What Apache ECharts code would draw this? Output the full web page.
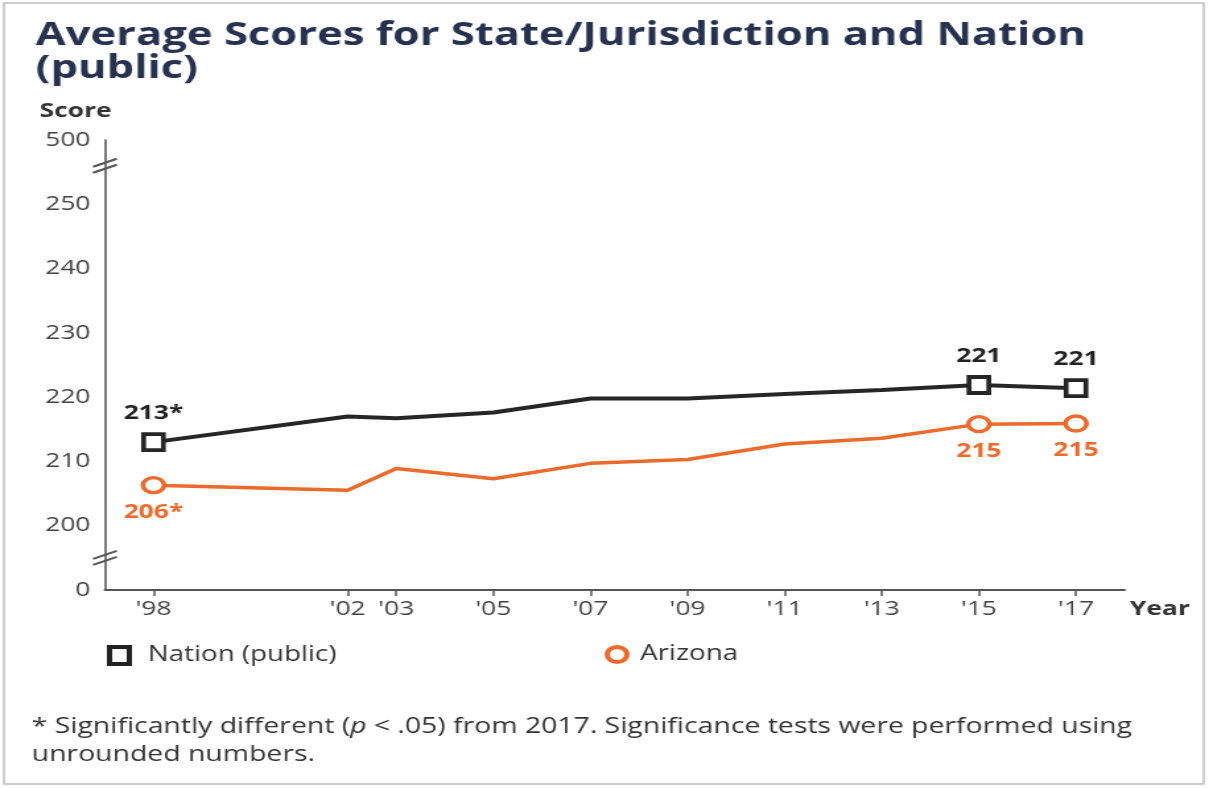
<!DOCTYPE html>
<html>
<head>
<meta charset="utf-8">
<script src="https://cdn.jsdelivr.net/npm/echarts@6/dist/echarts.min.js"></script>
<style>
  html, body { margin: 0; padding: 0; background: #fff; overflow: hidden; }
  /* the reference is stretched sideways, so the chart is drawn narrow and widened */
  #chart { width: 916px; height: 788px; transform: scaleX(1.3199); transform-origin: 0 0; }
</style>
</head>
<body>
<div id="chart"></div>
<script>
// data
const years = [1998, 2002, 2003, 2005, 2007, 2009, 2011, 2013, 2015, 2017]
const nation = [213.0, 217.0, 216.7, 217.6, 219.8, 219.8, 220.5, 221.1, 221.9, 221.4]
const arizona = [206.3, 205.5, 208.9, 207.3, 209.7, 210.3, 212.7, 213.6, 215.8, 215.9]
const nationLabels = ['213*', '', '', '', '', '', '', '', '221', '221']
const arizonaLabels = ['206*', '', '', '', '', '', '', '', '215', '215']
// y ticks: 190 stands for 0 and 260 for 500 (broken axis)
const yTicks = [190, 200, 210, 220, 230, 240, 250, 260]
const yTickLabels = ['0', '200', '210', '220', '230', '240', '250', '500']

const NAVY = '#26324f'
const DARK = '#262626'
const ORANGE = '#ec6a2c'
const FONT = '"Open Sans", sans-serif'

const points = (vals, labels, symbol) =>
  years.map((y, i) => ({
    value: [y, vals[i]],
    symbol: labels[i] ? symbol : 'none',
    label: { show: !!labels[i], formatter: labels[i] },
  }))

const chart = echarts.init(document.getElementById('chart'), null, { renderer: 'canvas' })

chart.setOption({
  animation: false,
  title: {
    text: 'Average Scores for State/Jurisdiction and Nation\n(public)',
    left: 22,
    top: 14,
    textStyle: { fontFamily: FONT, fontSize: 33, fontWeight: 'bold', color: NAVY, lineHeight: 33 },
  },
  grid: { left: 79.5, right: 64, top: 140, bottom: 198 },
  legend: [
    {
      left: 76, top: 640, itemWidth: 15, itemHeight: 17,
      textStyle: { fontFamily: FONT, fontSize: 21, color: '#333', padding: [0, 0, 0, 9] },
      data: [{ name: 'Nation (public)', icon: 'rect', itemStyle: { color: '#fff', borderColor: '#222', borderWidth: 4 } }],
    },
    {
      left: 453, top: 639, itemWidth: 15, itemHeight: 19,
      textStyle: { fontFamily: FONT, fontSize: 21, color: '#333', padding: [0, 0, 0, 5] },
      data: [{ name: 'Arizona', icon: 'circle', itemStyle: { color: '#fff', borderColor: ORANGE, borderWidth: 4 } }],
    },
  ],
  xAxis: {
    type: 'value',
    min: 1997,
    max: 2018,
    name: 'Year',
    nameLocation: 'end',
    nameGap: 4,
    nameTextStyle: { fontFamily: FONT, fontSize: 20, fontWeight: 'bold', color: '#333', verticalAlign: 'top', padding: [9, 0, 0, 0] },
    splitLine: { show: false },
    axisLine: { lineStyle: { color: '#555', width: 2 } },
    axisTick: { show: true, customValues: years, length: 6, lineStyle: { color: '#555', width: 1.5 } },
    axisLabel: {
      customValues: years,
      margin: 9,
      fontFamily: FONT, fontSize: 20, color: '#444',
      formatter: (v) => "'" + String(v).slice(2),
    },
  },
  yAxis: {
    type: 'value',
    min: 190,
    max: 260,
    interval: 10,
    splitLine: { show: false },
    axisLine: { show: true, lineStyle: { color: '#555', width: 1.6 } },
    axisTick: { show: false },
    axisLabel: {
      margin: 11,
      fontFamily: FONT, fontSize: 20, color: '#444',
      formatter: (v) => yTickLabels[yTicks.indexOf(v)],
    },
  },
  series: [
    {
      name: 'Nation (public)',
      type: 'line',
      data: points(nation, nationLabels, 'rect'),
      symbolSize: [15, 16],
      lineStyle: { color: DARK, width: 4 },
      itemStyle: { color: '#fff', borderColor: DARK, borderWidth: 3.8 },
      label: { position: 'top', distance: 9, fontFamily: FONT, fontSize: 20, fontWeight: 'bold', color: '#222' },
      z: 3,
    },
    {
      name: 'Arizona',
      type: 'line',
      data: points(arizona, arizonaLabels, 'circle'),
      symbolSize: [16, 15],
      lineStyle: { color: ORANGE, width: 3.5 },
      itemStyle: { color: '#fff', borderColor: ORANGE, borderWidth: 3.4 },
      label: { position: 'bottom', distance: 8, fontFamily: FONT, fontSize: 20, fontWeight: 'bold', color: ORANGE },
      z: 3,
    },
  ],
})

// axis break marks, frame, axis title and footnote
const brk = (v) => {
  const p = chart.convertToPixel({ gridIndex: 0 }, [1997, v])
  return [
    { type: 'line', shape: { x1: p[0] - 9, y1: p[1] + 1, x2: p[0] + 9, y2: p[1] - 7 }, style: { stroke: '#555', lineWidth: 2 } },
    { type: 'line', shape: { x1: p[0] - 9, y1: p[1] + 7, x2: p[0] + 9, y2: p[1] - 1 }, style: { stroke: '#555', lineWidth: 2 } },
  ]
}

chart.setOption({
  graphic: [
    { type: 'rect', shape: { x: 3, y: 3, width: 909, height: 781 }, style: { fill: 'none', stroke: '#bdbdbd', lineWidth: 1.5 }, silent: true },
    { type: 'text', left: 30, top: 101, style: { text: 'Score', fontFamily: FONT, fontSize: 20, fontWeight: 'bold', fill: '#333' } },
    ...brk(256),
    ...brk(195),
    {
      type: 'text', left: 24, top: 713,
      style: {
        text: '* Significantly different ({i|p} < .05) from 2017. Significance tests were performed using\nunrounded numbers.',
        fontFamily: FONT, fontSize: 21.5, fill: '#333', lineHeight: 28,
        rich: { i: { fontStyle: 'italic', fontFamily: FONT, fontSize: 21.5, fill: '#333' } },
      },
    },
  ],
})
</script>
</body>
</html>
